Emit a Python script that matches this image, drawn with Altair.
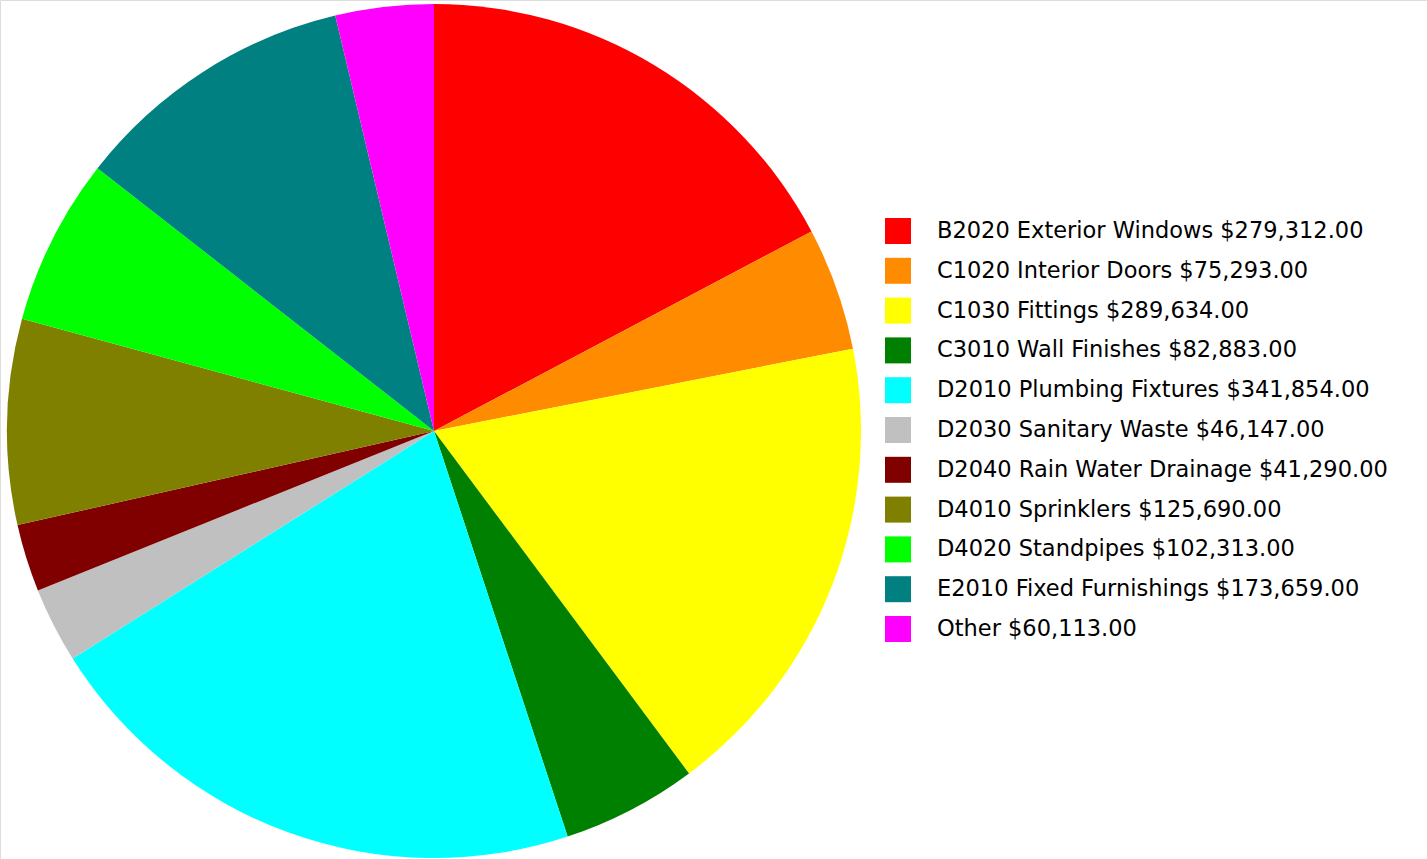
import altair as alt
import pandas as pd

categories = [
    "B2020 Exterior Windows", "C1020 Interior Doors", "C1030 Fittings",
    "C3010 Wall Finishes", "D2010 Plumbing Fixtures", "D2030 Sanitary Waste",
    "D2040 Rain Water Drainage", "D4010 Sprinklers", "D4020 Standpipes",
    "E2010 Fixed Furnishings", "Other",
]
values = [279312, 75293, 289634, 82883, 341854, 46147, 41290, 125690, 102313, 173659, 60113]
colors = ["#FF0000", "#FF8C00", "#FFFF00", "#008000", "#00FFFF", "#C0C0C0",
          "#800000", "#808000", "#00FF00", "#008080", "#FF00FF"]

labels = [f"{c} ${v:,.2f}" for c, v in zip(categories, values)]
df = pd.DataFrame({"label": labels, "value": values, "order": list(range(len(values)))})

chart = alt.Chart(df).mark_arc(outerRadius=427, stroke=None).encode(
    theta=alt.Theta("value:Q", stack=True),
    order=alt.Order("order:Q"),
    x=alt.value(434),
    y=alt.value(431),
    color=alt.Color(
        "label:N",
        sort=labels,
        scale=alt.Scale(domain=labels, range=colors),
        legend=alt.Legend(
            title=None,
            orient="none",
            legendX=885,
            legendY=218,
            symbolType="square",
            symbolSize=676,
            symbolStrokeWidth=0,
            symbolOpacity=1,
            labelFont="DejaVu Sans",
            labelFontSize=22.5,
            labelColor="#000000",
            labelOffset=26,
            rowPadding=13.8,
            labelLimit=600,
            padding=0,
        ),
    ),
).properties(
    width=1427, height=859, padding=0, autosize=alt.AutoSizeParams(type="none")
).configure_view(stroke=None).configure(background="#ffffff")

chart.save("out.html", embed_options={"renderer": "svg", "actions": False})
